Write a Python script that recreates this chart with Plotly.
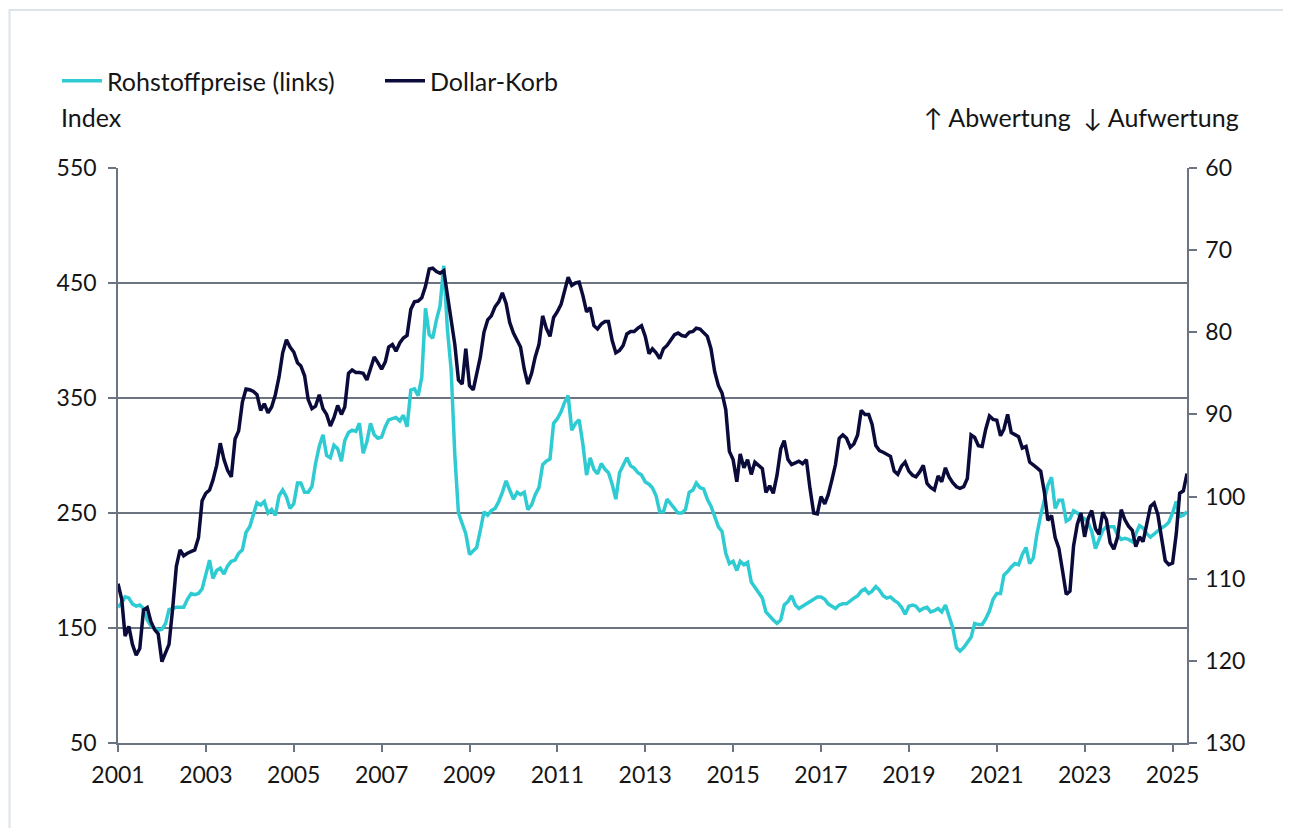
import pandas as pd
import plotly.graph_objects as go

# Rohstoffpreise (Index, linke Achse), monatlich ab Jan 2001
c2001 = [168,172,177,176,171,169,170,167,157,152,150,148]
c2002 = [149,154,166,167,168,168,168,175,180,179,180,184]
c2003 = [198,209,193,200,202,197,204,208,209,215,218,233]
c2004 = [238,250,259,257,260,250,253,248,265,270,264,254]
c2005 = [258,276,276,268,268,273,293,308,318,300,298,309]
c2006 = [306,295,313,320,322,321,328,302,312,328,318,315]
c2007 = [316,325,331,332,333,330,335,325,357,358,352,368]
c2008 = [428,405,402,418,430,465,410,375,300,250,240,232]
c2009 = [214,217,220,235,251,248,252,254,260,268,278,270]
c2010 = [262,268,266,268,253,257,266,272,292,295,297,328]
c2011 = [332,338,346,352,322,328,331,310,283,298,288,284]
c2012 = [293,288,285,275,262,285,292,298,291,289,285,283]
c2013 = [277,275,272,265,251,251,262,258,253,250,250,253]
c2014 = [268,270,276,272,271,262,256,248,238,234,215,206]
c2015 = [208,200,208,205,207,190,185,181,176,164,160,157]
c2016 = [154,157,170,173,178,170,167,169,171,173,175,177]
c2017 = [177,175,171,169,167,170,171,171,174,176,178,182]
c2018 = [184,180,182,186,183,178,176,177,174,172,168,162]
c2019 = [169,170,169,165,167,168,164,165,167,164,170,160]
c2020 = [150,133,130,133,138,142,154,153,153,158,165,175]
c2021 = [180,180,196,199,203,206,205,214,220,206,211,232]
c2022 = [248,262,274,281,254,261,261,243,245,252,250,247]
c2023 = [245,241,234,219,227,235,238,238,238,231,227,228]
c2024 = [227,225,232,239,237,232,229,232,235,237,239,242]
c2025 = [250,260,247,248,251]

# Dollar-Korb (rechte Achse, invertiert)
d2001 = [110.6,112.5,117.0,115.8,118.0,119.3,118.5,113.8,113.5,115.2,116.2,116.7]
d2002 = [120.1,119.0,118.0,113.5,108.5,106.5,107.2,106.9,106.7,106.5,105.0,100.5]
d2003 = [99.6,99.2,98.0,96.2,93.5,95.5,96.8,97.6,93.0,92.0,88.5,86.9]
d2004 = [87.0,87.2,87.6,89.5,88.7,89.8,89.1,87.6,85.4,82.5,80.9,81.8]
d2005 = [82.4,83.7,84.1,85.3,88.2,89.3,89.0,87.6,89.3,90.0,91.4,90.4]
d2006 = [88.9,90.0,89.1,85.0,84.6,84.9,84.9,85.0,85.8,84.3,83.0,83.7]
d2007 = [84.5,83.6,81.8,81.5,82.3,81.3,80.7,80.4,77.2,76.3,76.2,75.8]
d2008 = [74.4,72.3,72.2,72.6,72.8,72.5,75.5,78.5,81.5,85.8,86.3,82.0]
d2009 = [86.5,87.0,85.0,83.0,80.0,78.5,78.0,76.9,76.3,75.2,76.5,78.8]
d2010 = [80.1,80.9,81.8,84.5,86.3,85.0,83.0,81.5,78.0,79.5,80.5,78.2]
d2011 = [77.5,76.6,75.0,73.3,74.3,74.0,73.9,75.5,77.5,77.0,79.2,79.6]
d2012 = [79.0,78.7,78.7,81.0,82.5,82.2,81.6,80.2,79.9,79.9,79.5,79.2]
d2013 = [80.5,82.6,82.0,82.5,83.2,82.0,81.6,81.0,80.3,80.1,80.4,80.5]
d2014 = [80.0,79.9,79.5,79.6,80.0,80.5,82.0,84.8,86.5,87.4,89.4,94.5]
d2015 = [95.5,98.2,94.8,96.5,95.5,97.3,95.8,96.2,96.6,99.5,98.7,99.6]
d2016 = [97.4,94.2,93.2,95.5,96.1,95.9,95.7,96.0,95.5,99.0,102.0,102.1]
d2017 = [100.0,100.9,99.8,98.0,96.1,92.9,92.5,92.9,94.0,93.6,92.5,89.5]
d2018 = [90.0,90.0,91.2,93.8,94.4,94.6,94.8,95.1,96.9,97.3,96.3,95.8]
d2019 = [96.9,97.4,97.6,97.0,96.2,98.4,98.9,99.2,97.5,98.2,96.5,97.6]
d2020 = [98.3,98.8,99.0,98.8,97.8,92.5,92.8,93.8,93.9,91.8,90.2,90.6]
d2021 = [90.7,92.6,91.8,90.0,92.2,92.5,92.7,94.1,93.9,95.8,96.1,96.5]
d2022 = [96.9,99.5,102.9,102.3,105.0,106.3,109.0,111.9,111.5,106.0,103.4,102.0]
d2023 = [104.9,102.6,101.7,103.9,104.6,101.9,102.8,105.6,106.4,105.0,101.6,102.8]
d2024 = [103.6,104.1,106.1,104.9,105.5,103.1,101.2,100.8,102.2,105.0,107.8,108.3]
d2025 = [108.1,104.5,99.6,99.3,97.2]

commodity = (c2001 + c2002 + c2003 + c2004 + c2005 + c2006 + c2007 + c2008 + c2009 +
             c2010 + c2011 + c2012 + c2013 + c2014 + c2015 + c2016 + c2017 + c2018 +
             c2019 + c2020 + c2021 + c2022 + c2023 + c2024 + c2025)
dollar = (d2001 + d2002 + d2003 + d2004 + d2005 + d2006 + d2007 + d2008 + d2009 +
          d2010 + d2011 + d2012 + d2013 + d2014 + d2015 + d2016 + d2017 + d2018 +
          d2019 + d2020 + d2021 + d2022 + d2023 + d2024 + d2025)
dates = pd.date_range("2001-01-01", periods=len(commodity), freq="MS")

left_ticks = [50, 150, 250, 350, 450, 550]
right_ticks = [60, 70, 80, 90, 100, 110, 120, 130]

FONT = "Lato, 'Liberation Sans', sans-serif"
AX = "#6b7480"
TXT = "#151515"
CYAN = "#2fcbd3"
NAVY = "#0b0b3b"

fig = go.Figure()
fig.add_trace(go.Scatter(x=dates, y=commodity, name="Rohstoffpreise (links)",
                         mode="lines", line=dict(color=CYAN, width=3.5), yaxis="y"))
fig.add_trace(go.Scatter(x=dates, y=dollar, name="Dollar-Korb",
                         mode="lines", line=dict(color=NAVY, width=3.5), yaxis="y2"))

OFF = 8  # page body margin
W, H = 1275, 820
L, T = 110, 160
pw, ph = 1069, 575
R = W - L - pw
B = H - T - ph

def px_x(p):
    return (p - OFF - L) / pw

def px_y(p):
    return 1 + (T + OFF - p) / ph

fig.update_layout(
    width=W, height=H,
    margin=dict(l=L, r=R, t=T, b=B, pad=0),
    paper_bgcolor="white", plot_bgcolor="white",
    font=dict(family=FONT, size=25, color=TXT),
    showlegend=True,
    legend=dict(orientation="h", x=px_x(57), xanchor="left", y=px_y(81), yanchor="middle",
                font=dict(size=25, color=TXT), bgcolor="rgba(0,0,0,0)",
                itemwidth=40, entrywidth=268, entrywidthmode="pixels",
                traceorder="normal"),
    xaxis=dict(type="date", range=[dates[0], dates[-1]],
               tick0="2001-01-01", dtick="M24", tickformat="%Y",
               showgrid=False, showline=True, linecolor=AX, linewidth=1.5,
               ticks="outside", ticklen=7, tickcolor=AX, tickwidth=1.5,
               ticklabelstandoff=4,
               tickfont=dict(size=23, color=TXT), zeroline=False),
    yaxis=dict(range=[50, 550], tickvals=left_ticks, ticktext=[str(v) for v in left_ticks],
               showgrid=True, gridcolor=AX, gridwidth=1.5,
               showline=True, linecolor=AX, linewidth=1.5,
               ticks="outside", ticklen=8, tickcolor=AX, tickwidth=1.5,
               ticklabelstandoff=7,
               tickfont=dict(size=23, color=TXT), zeroline=False),
    yaxis2=dict(range=[130, 60], overlaying="y", side="right",
                tickvals=right_ticks, ticktext=[str(v) for v in right_ticks],
                showgrid=False, showline=True, linecolor=AX, linewidth=1.5,
                ticks="outside", ticklen=8, tickcolor=AX, tickwidth=1.5,
                ticklabelstandoff=4,
                tickfont=dict(size=23, color=TXT), zeroline=False),
)

fig.add_annotation(text="Index", xref="paper", yref="paper", x=px_x(59), y=px_y(117),
                   xanchor="left", yanchor="middle", showarrow=False,
                   font=dict(size=25, color=TXT))
fig.add_annotation(text="↑ Abwertung  ↓ Aufwertung", xref="paper", yref="paper",
                   x=px_x(1241), y=px_y(117), xanchor="right", yanchor="middle",
                   showarrow=False, font=dict(size=25, color=TXT))

fig.add_shape(type="rect", xref="paper", yref="paper",
              x0=px_x(9.5), x1=px_x(1320), y0=px_y(900), y1=px_y(10),
              line=dict(color="#dde3ea", width=2), fillcolor="rgba(0,0,0,0)", layer="below")

fig.write_html("out.html")
